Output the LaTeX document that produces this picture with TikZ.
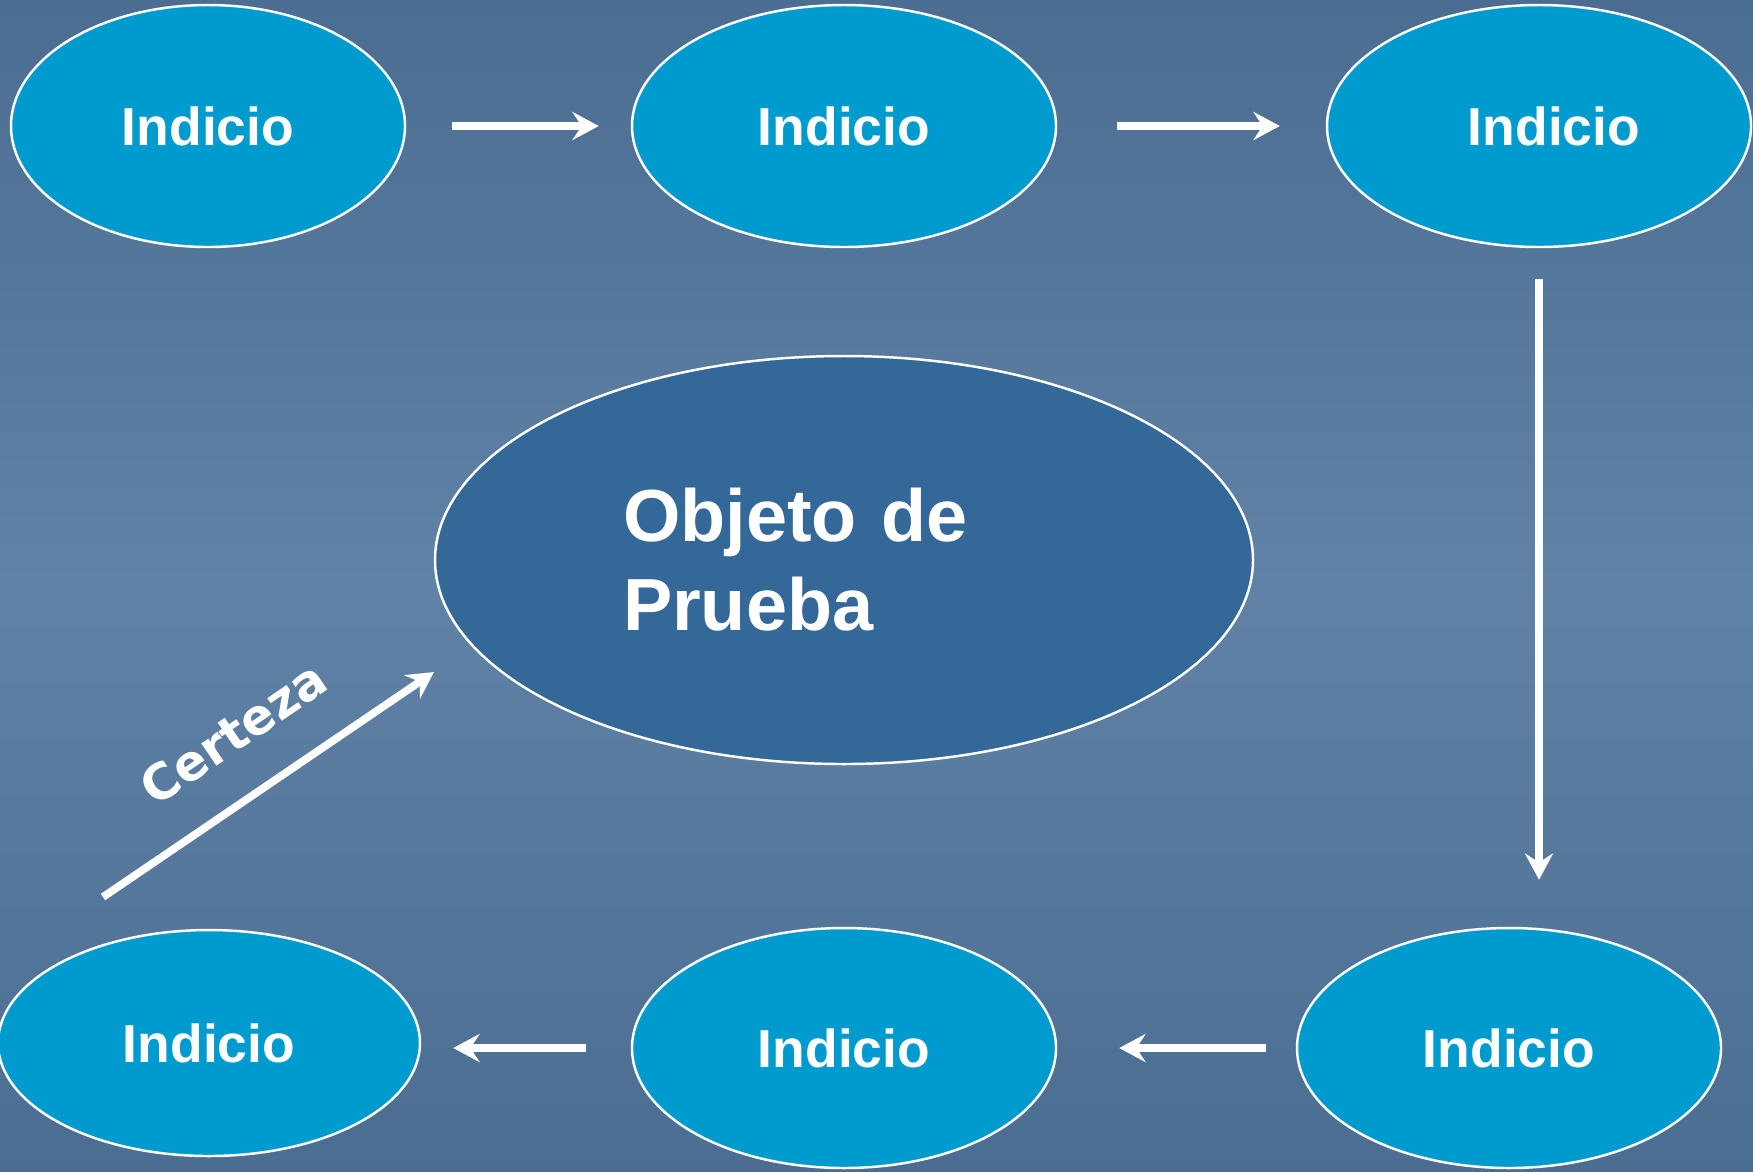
\documentclass[tikz,border=0pt]{standalone}
\usepackage{fontspec}
\setmainfont{Liberation Sans}
\newfontfamily\certfont{DejaVu Sans}
\usetikzlibrary{shapes.geometric,arrows.meta}
\definecolor{fondoosc}{RGB}{76,109,146}
\definecolor{fondoclaro}{RGB}{96,130,166}
\definecolor{celeste}{RGB}{0,155,206}
\definecolor{azulobj}{RGB}{51,104,153}

\begin{document}
\begin{tikzpicture}[
	indicio/.style={ellipse,draw=white,line width=0.7pt,fill=celeste,inner sep=0pt,
		minimum width=4.24cm,minimum height=2.42cm,text=white,
		font=\fontsize{15.2}{18}\selectfont\bfseries},
	objeto/.style={ellipse,draw=white,line width=0.7pt,fill=azulobj,inner sep=0pt,
		minimum width=8.18cm,minimum height=4.08cm,text width=4.42cm,align=left,
		text=white,font=\fontsize{21}{25.3}\selectfont\bfseries},
	flecha/.style={draw=white,line width=2.2pt,-{Stealth[length=7.5pt,width=8pt,inset=2.6pt]}}]
\shade[top color=fondoosc,bottom color=fondoosc,middle color=fondoclaro] (0,0) rectangle (17.53,-11.71);
\useasboundingbox (0,0) rectangle (17.53,-11.71);
% fila de arriba
\node[indicio,minimum width=3.94cm] (i1) at (2.08,-1.26) {Indicio};
\node[indicio] (i2) at (8.44,-1.26) {Indicio};
\node[indicio] (i3) at (15.39,-1.26) {\hspace*{0.3cm}Indicio};
% fila de abajo
\node[indicio,minimum height=2.40cm] (i4) at (15.09,-10.48) {Indicio};
\node[indicio,minimum height=2.40cm] (i5) at (8.44,-10.48) {Indicio};
\node[indicio,minimum width=4.22cm,minimum height=2.26cm] (i6) at (2.09,-10.43) {Indicio};
% centro
\node[objeto] (obj) at (8.44,-5.60) {Objeto de\\Prueba};
% flechas
\draw[flecha,shorten <=0.46cm,shorten >=0.32cm] (i1) -- (i2);
\draw[flecha,shorten <=0.60cm,shorten >=0.46cm] (i2) -- (i3);
\draw[flecha,shorten <=0.31cm,shorten >=0.47cm] (i3.south) -- (i3.south |- i4.north);
\draw[flecha,shorten <=0.30cm,shorten >=0.62cm] (i4) -- (i5);
\draw[flecha,shorten <=0.45cm,shorten >=0.32cm] (i5) -- (i5 -| i6.east);
\coordinate (cert0) at (1.03,-8.97);
\coordinate (cert1) at (4.34,-6.72);
\draw[flecha] (cert0) -- node[midway,sloped,above=0.28cm,text=white,
	font=\certfont\bfseries\fontsize{14}{16}\selectfont] (cert) {Certeza} (cert1);
\end{tikzpicture}
\end{document}
